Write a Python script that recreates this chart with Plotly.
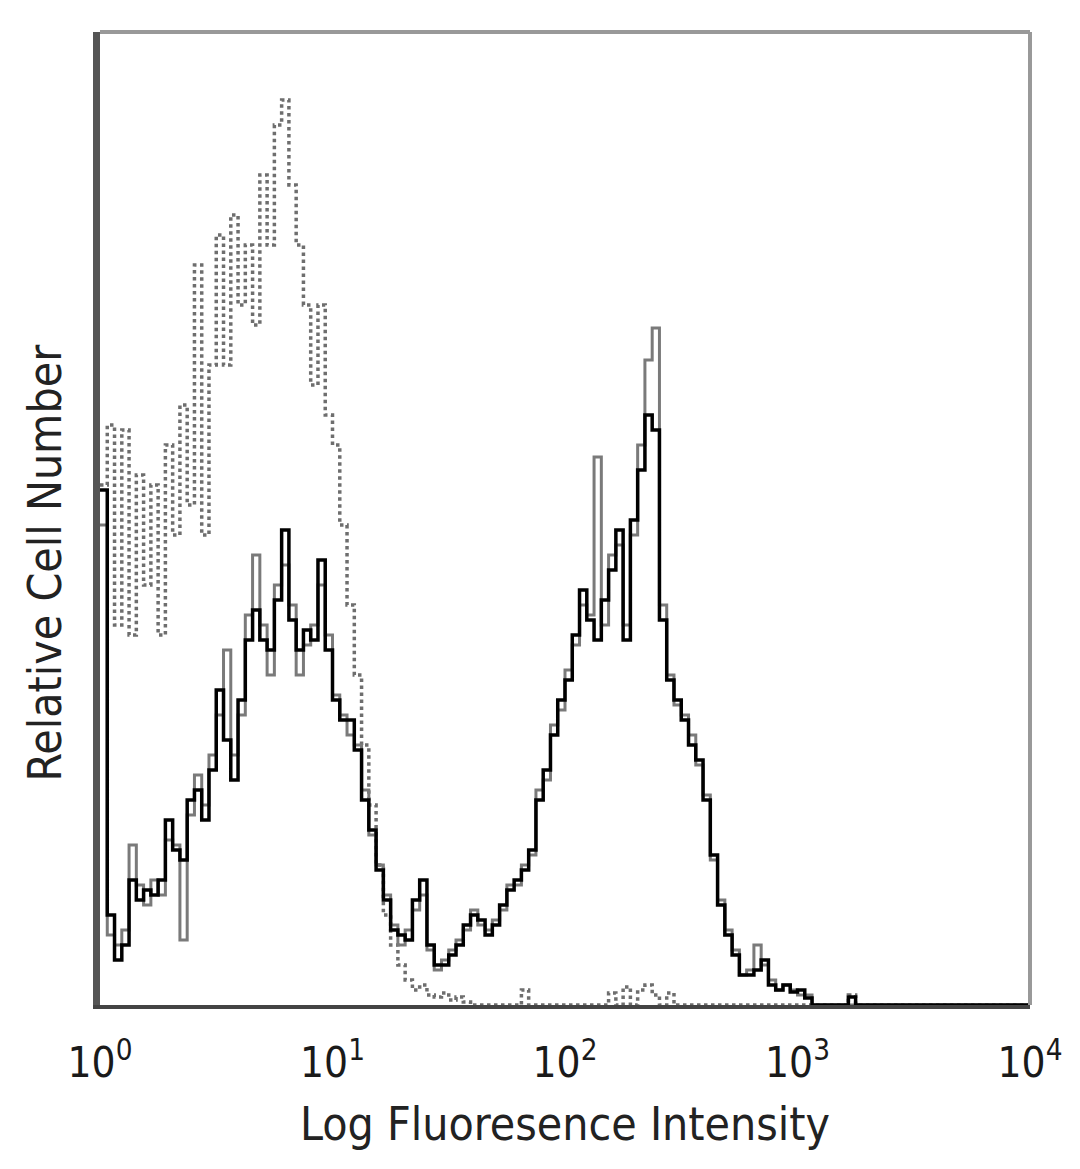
import plotly.graph_objects as go

# ---- data: histogram counts in 128 log-spaced channels (32 per decade, 10^0 .. 10^4)
channels_per_decade = 32
n_channels = 128

stained_counts = [
    515, 90, 45, 60, 125, 105, 115, 110, 125, 185, 155, 145, 205, 215, 185, 235,
    315, 265, 225, 305, 365, 395, 365, 355, 405, 475, 385, 355, 375, 365, 445, 355,
    305, 285, 285, 255, 205, 175, 135, 105, 75, 70, 65, 105, 125, 60, 40, 40,
    50, 60, 80, 90, 85, 70, 80, 100, 115, 125, 135, 155, 205, 235, 270, 305,
    325, 370, 415, 385, 365, 405, 435, 475, 365, 485, 535, 590, 575, 385, 325, 305,
    285, 260, 245, 205, 150, 100, 70, 50, 30, 30, 35, 45, 20, 15, 20, 13,
    15, 7, 0, 0, 0, 0, 0, 8, 0, 0, 0, 0, 0, 0, 0, 0,
    0, 0, 0, 0, 0, 0, 0, 0, 0, 0, 0, 0, 0, 0, 0, 0,
]

stained_counts_rep = [
    480, 70, 60, 75, 160, 120, 100, 125, 110, 165, 160, 65, 190, 230, 200, 250,
    290, 355, 250, 290, 390, 450, 380, 330, 420, 440, 400, 330, 360, 380, 420, 370,
    310, 290, 270, 260, 215, 170, 140, 110, 80, 60, 75, 95, 110, 55, 35, 45,
    55, 65, 75, 95, 80, 75, 85, 95, 120, 120, 140, 150, 215, 225, 280, 295,
    335, 360, 400, 390, 548, 380, 450, 460, 380, 470, 560, 645, 677, 400, 330, 300,
    290, 270, 240, 210, 145, 105, 75, 55, 30, 35, 60, 40, 25, 15, 20, 15,
    10, 10, 0, 0, 0, 0, 0, 0, 0, 0, 0, 0, 0, 0, 0, 0,
    0, 0, 0, 0, 0, 0, 0, 0, 0, 0, 0, 0, 0, 0, 0, 0,
]

control_counts = [
    520, 580, 380, 575, 370, 530, 420, 520, 370, 560, 470, 600, 500, 740, 470, 640,
    770, 640, 790, 700, 760, 680, 830, 760, 880, 905, 820, 760, 700, 620, 700, 590,
    560, 480, 400, 330, 260, 200, 140, 90, 60, 40, 25, 15, 20, 10, 8, 12,
    5, 8, 3, 0, 0, 0, 0, 0, 0, 0, 15, 0, 0, 0, 0, 0,
    0, 0, 0, 0, 0, 0, 12, 0, 18, 0, 15, 20, 10, 0, 12, 0,
    0, 0, 0, 0, 0, 0, 0, 0, 0, 0, 0, 0, 0, 0, 0, 0,
    0, 0, 0, 0, 0, 0, 0, 10, 0, 0, 0, 0, 0, 0, 0, 0,
    0, 0, 0, 0, 0, 0, 0, 0, 0, 0, 0, 0, 0, 0, 0, 0,
]

tick_values = [1, 10, 100, 1000, 10000]
tick_labels = ["10<sup>0</sup>", "10<sup>1</sup>", "10<sup>2</sup>", "10<sup>3</sup>", "10<sup>4</sup>"]
x_title = "Log Fluoresence Intensity"
y_title = "Relative Cell Number"

# channel edges on the log scale
edges = [10 ** (i / channels_per_decade) for i in range(n_channels + 1)]


def step_xy(counts):
    xs = edges[:]  # left edges + final right edge
    ys = list(counts) + [counts[-1]]
    return xs, ys


FONT = "DejaVu Sans Condensed, Liberation Sans Narrow, Open Sans, DejaVu Sans, sans-serif"

fig = go.Figure()

cx, cy = step_xy(control_counts)
fig.add_trace(go.Scatter(x=cx, y=cy, mode="lines", line_shape="hv",
                         line=dict(color="#6e6e6e", width=3.5, dash="dot"),
                         showlegend=False, hoverinfo="skip"))

rx, ry = step_xy(stained_counts_rep)
fig.add_trace(go.Scatter(x=rx, y=ry, mode="lines", line_shape="hv",
                         line=dict(color="#7a7a7a", width=3),
                         showlegend=False, hoverinfo="skip"))

sx, sy = step_xy(stained_counts)
fig.add_trace(go.Scatter(x=sx, y=sy, mode="lines", line_shape="hv",
                         line=dict(color="#000000", width=3.5),
                         showlegend=False, hoverinfo="skip"))

fig.update_layout(
    width=1080, height=1169,
    margin=dict(l=92, r=58, t=24, b=172),
    paper_bgcolor="white", plot_bgcolor="white",
    font=dict(family=FONT, color="#222222"),
    showlegend=False,
)

fig.update_xaxes(
    type="log", range=[0, 4],
    tickvals=tick_values, ticktext=tick_labels,
    tickfont=dict(size=42, family=FONT, color="#1a1a1a"),
    ticks="", showgrid=False, zeroline=False,
    showline=True, linecolor="#444444", linewidth=4,
    ticklabelstandoff=18,
    title=dict(text=x_title, font=dict(size=46, family=FONT, color="#222222"), standoff=22),
)
fig.update_yaxes(
    range=[0, 973],
    showticklabels=False, ticks="", showgrid=False, zeroline=False,
    showline=True, linecolor="#555555", linewidth=7,
)

# y-axis title placed like the reference (slightly below plot centre)
fig.add_annotation(text=y_title, xref="paper", yref="paper", x=-0.059, y=0.455,
                   xanchor="center", yanchor="middle", textangle=-90, showarrow=False,
                   font=dict(size=46, family=FONT, color="#222222"))

# top and right frame lines
fig.add_shape(type="line", xref="paper", yref="paper", x0=0, x1=1, y0=1, y1=1,
              line=dict(color="#999999", width=4))
fig.add_shape(type="line", xref="paper", yref="paper", x0=1, x1=1, y0=0, y1=1,
              line=dict(color="#999999", width=4))

fig.write_html("out.html")
